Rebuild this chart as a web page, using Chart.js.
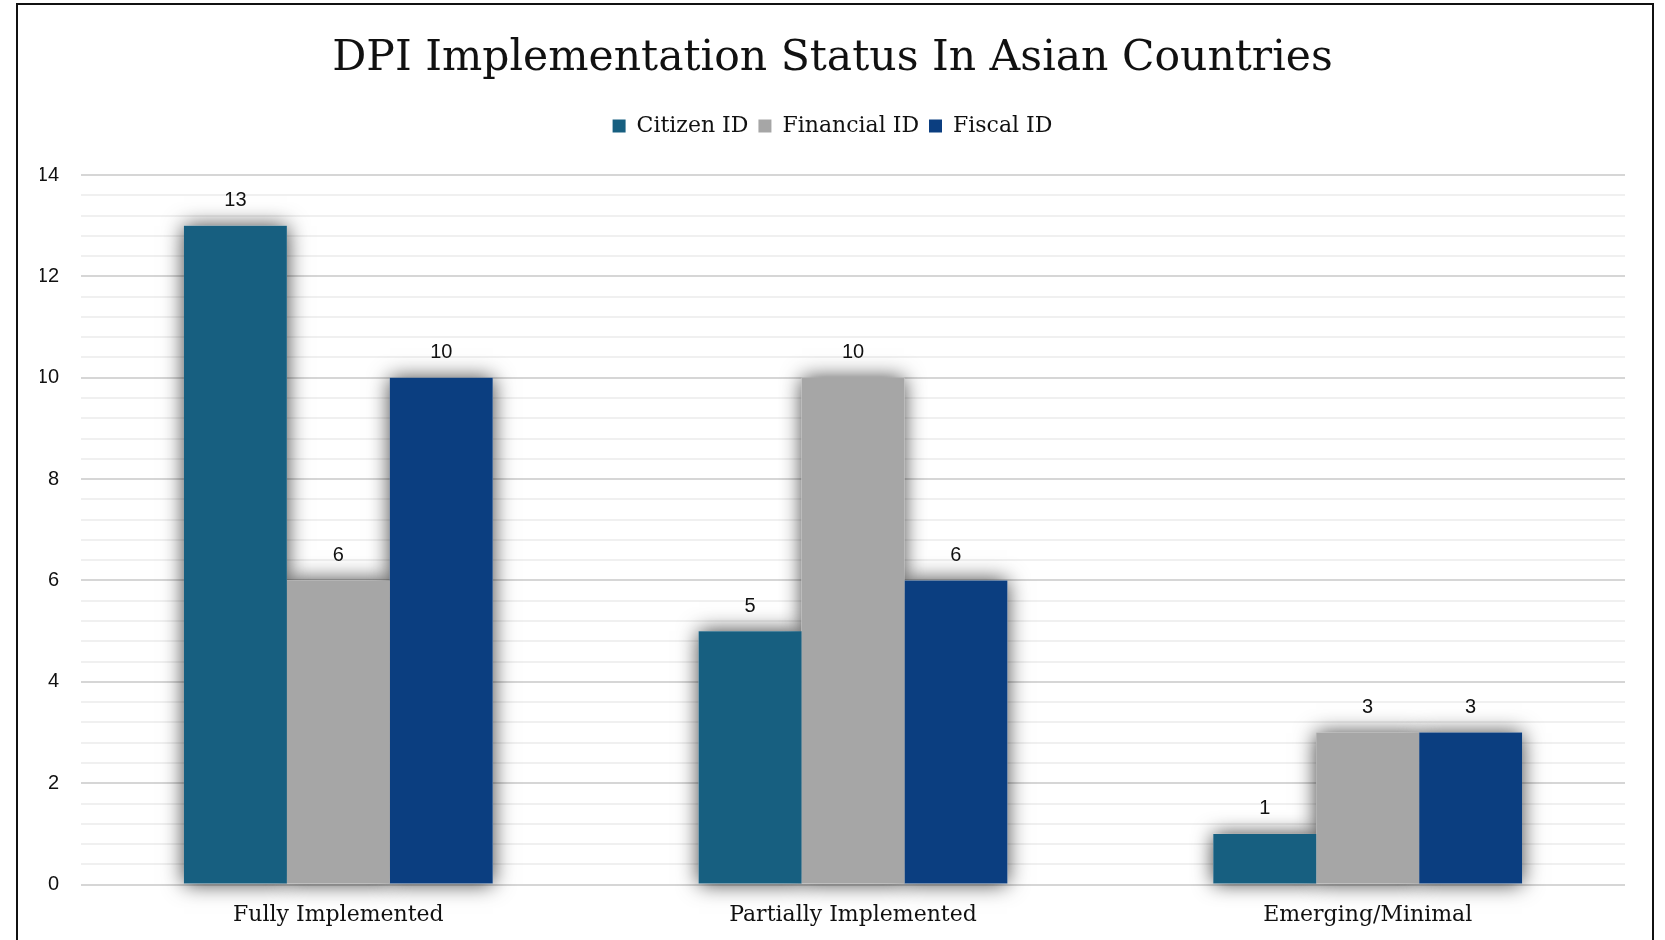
<!DOCTYPE html>
<html>
<head>
    <meta charset="UTF-8">
    <title>DPI Implementation Status</title>
    <style>
        html, body {
            margin: 0;
            padding: 0;
            width: 1665px;
            height: 940px;
            overflow: hidden;
            background: #ffffff;
        }

        .frame {
            position: absolute;
            left: 16px;
            top: 3px;
            width: 1638px;
            height: 1000px;
            border: 2px solid #111111;
            box-sizing: border-box;
        }

        .chart-box {
            position: absolute;
            left: 0;
            top: 0;
            width: 1665px;
            height: 940px;
        }
    </style>
    <script src="https://cdn.jsdelivr.net/npm/chart.js"></script>
</head>
<body>
    <div class="chart-box"><canvas id="grafico" width="1665" height="940"></canvas></div>
    <div class="frame"></div>

    <script>
        var categorias = ['Fully Implemented', 'Partially Implemented', 'Emerging/Minimal'];
        var citizenId = [13, 5, 1];
        var financialId = [6, 10, 3];
        var fiscalId = [10, 6, 3];
        var tituloGrafico = 'DPI Implementation Status In Asian Countries';

        var serifFont = "'DejaVu Serif', serif";
        var sansFont = "'Liberation Sans', Arial, sans-serif";

        // sombra atrás das barras
        var sombraBarras = {
            id: 'sombraBarras',
            beforeDatasetsDraw: function (chart) {
                var ctx = chart.ctx;
                ctx.save();
                ctx.shadowColor = 'rgba(0, 0, 0, 0.75)';
                ctx.shadowBlur = 20;
                ctx.fillStyle = '#ffffff';
                chart.data.datasets.forEach(function (ds, i) {
                    chart.getDatasetMeta(i).data.forEach(function (bar) {
                        var p = bar.getProps(['x', 'y', 'base', 'width'], true);
                        ctx.fillRect(p.x - p.width / 2, p.y, p.width, p.base - p.y);
                    });
                });
                ctx.restore();
            }
        };

        // rótulos com os valores acima das barras
        var rotulosValores = {
            id: 'rotulosValores',
            afterDatasetsDraw: function (chart) {
                var ctx = chart.ctx;
                ctx.save();
                ctx.font = '20px ' + sansFont;
                ctx.fillStyle = '#111111';
                ctx.textAlign = 'center';
                ctx.textBaseline = 'middle';
                chart.data.datasets.forEach(function (ds, i) {
                    chart.getDatasetMeta(i).data.forEach(function (bar, j) {
                        ctx.fillText(ds.data[j], bar.x, bar.y - 25);
                    });
                });
                ctx.restore();
            }
        };

        // espaço extra abaixo da legenda
        var margemLegenda = {
            id: 'margemLegenda',
            beforeInit: function (chart) {
                var fitOriginal = chart.legend.fit;
                chart.legend.fit = function () {
                    fitOriginal.bind(chart.legend)();
                    this.height += 28;
                };
            }
        };

        function ehPrincipal(v) {
            return Math.abs(v - Math.round(v / 2) * 2) < 1e-6;
        }

        var ctx = document.getElementById('grafico').getContext('2d');
        new Chart(ctx, {
            type: 'bar',
            data: {
                labels: categorias,
                datasets: [{
                    label: 'Citizen ID',
                    data: citizenId,
                    backgroundColor: '#175f80'
                }, {
                    label: 'Financial ID',
                    data: financialId,
                    backgroundColor: '#a6a6a6'
                }, {
                    label: 'Fiscal ID',
                    data: fiscalId,
                    backgroundColor: '#0b3e80'
                }]
            },
            options: {
                responsive: false,
                animation: false,
                devicePixelRatio: 1,
                datasets: {
                    bar: {
                        categoryPercentage: 0.6,
                        barPercentage: 1.0
                    }
                },
                layout: {
                    padding: { left: 40, right: 40, top: 0, bottom: -5 }
                },
                plugins: {
                    title: {
                        display: true,
                        text: tituloGrafico,
                        color: '#111111',
                        font: { family: serifFont, size: 42.5, weight: 'normal' },
                        padding: { top: 33, bottom: 21 }
                    },
                    legend: {
                        display: true,
                        position: 'top',
                        labels: {
                            color: '#111111',
                            font: { family: serifFont, size: 22 },
                            boxWidth: 13,
                            boxHeight: 13,
                            padding: 10
                        }
                    },
                    tooltip: { enabled: false }
                },
                scales: {
                    x: {
                        grid: { display: false, drawTicks: false },
                        border: { display: false },
                        ticks: {
                            color: '#111111',
                            font: { family: serifFont, size: 22 },
                            padding: 17
                        }
                    },
                    y: {
                        min: 0,
                        max: 14,
                        border: { display: false },
                        afterFit: function (scale) {
                            scale.width = 41;
                        },
                        ticks: {
                            stepSize: 0.4,
                            color: '#111111',
                            font: { family: sansFont, size: 20 },
                            padding: 22,
                            autoSkip: false,
                            callback: function (v) {
                                return ehPrincipal(v) ? Math.round(v) : '';
                            }
                        },
                        grid: {
                            drawTicks: false,
                            lineWidth: 2,
                            color: function (c) {
                                return ehPrincipal(c.tick.value) ? '#d6d6d6' : '#f0f0f0';
                            }
                        }
                    }
                }
            },
            plugins: [sombraBarras, rotulosValores, margemLegenda]
        });
    </script>
</body>
</html>
